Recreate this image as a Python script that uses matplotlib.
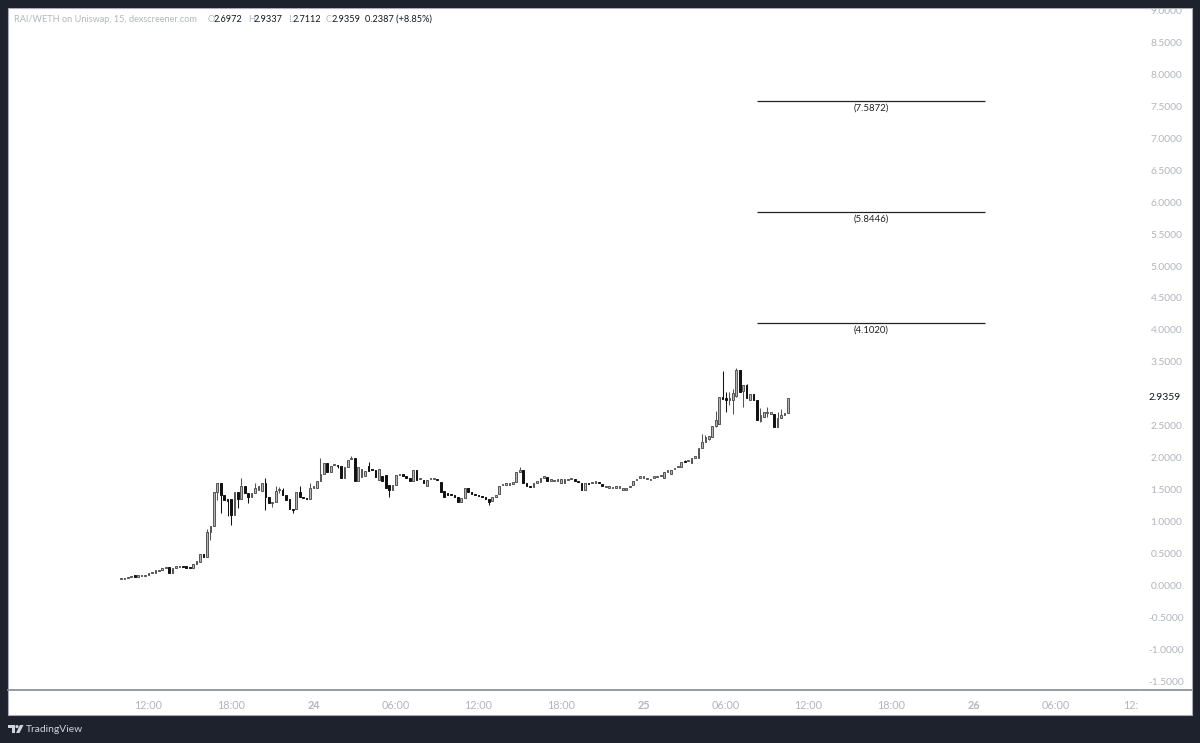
import matplotlib
matplotlib.use("Agg")
import matplotlib.pyplot as plt
from matplotlib.patches import Rectangle, Polygon, Circle
from matplotlib.transforms import blended_transform_factory

plt.rcParams['font.family'] = ['Lato', 'DejaVu Sans']

# 15 minute candles, one value per bar
opens = [.10, .10, .11, .13, .15, .14, .15, .15, .16, .19, .19, .22, .25, .27, .29, .20, .27, .29, .30, .29,
         .28, .27, .34, .37, .49, .45, .84, .93, 1.47, 1.60, 1.41, 1.35, 1.36, 1.10, 1.47, 1.35, 1.55, 1.44, 1.39, 1.44,
         1.50, 1.48, 1.61, 1.38, 1.29, 1.31, 1.49, 1.49, 1.41, 1.36, 1.20, 1.20, 1.46, 1.39, 1.37, 1.35, 1.53, 1.53, 1.64, 1.74,
         1.91, 1.78, 1.88, 1.88, 1.87, 1.68, 1.86, 1.98, 1.99, 1.64, 1.70, 1.71, 1.87, 1.83, 1.80, 1.65, 1.72, 1.73, 1.57, 1.49,
         1.57, 1.73, 1.74, 1.72, 1.68, 1.64, 1.81, 1.66, 1.65, 1.56, 1.66, 1.67, 1.66, 1.62, 1.48, 1.44, 1.42, 1.40, 1.39, 1.30,
         1.37, 1.53, 1.47, 1.43, 1.41, 1.40, 1.38, 1.36, 1.32, 1.38, 1.43, 1.57, 1.58, 1.58, 1.59, 1.62, 1.77, 1.81, 1.60, 1.56,
         1.54, 1.61, 1.62, 1.69, 1.70, 1.64, 1.63, 1.64, 1.60, 1.60, 1.65, 1.66, 1.65, 1.63, 1.61, 1.49, 1.60, 1.60, 1.61, 1.61,
         1.59, 1.54, 1.53, 1.52, 1.53, 1.53, 1.50, 1.50, 1.54, 1.58, 1.65, 1.69, 1.69, 1.66, 1.65, 1.69, 1.70, 1.71, 1.69, 1.78,
         1.75, 1.82, 1.85, 1.85, 1.94, 1.95, 1.91, 2.00, 2.00, 2.15, 2.25, 2.30, 2.32, 2.49, 2.53, 2.95, 2.92, 2.91, 2.91, 2.96,
         3.37, 3.05, 3.14, 2.91, 3.00, 2.90, 2.58, 2.64, 2.70, 2.69, 2.69, 2.48, 2.62, 2.67, 2.6972]
closes = [.10, .11, .13, .15, .14, .16, .15, .16, .19, .19, .24, .25, .27, .29, .20, .27, .31, .31, .29, .28,
          .27, .34, .39, .49, .44, .84, .93, 1.47, 1.60, 1.41, 1.34, 1.33, 1.10, 1.47, 1.35, 1.55, 1.44, 1.39, 1.44, 1.53,
          1.55, 1.61, 1.38, 1.29, 1.31, 1.48, 1.50, 1.41, 1.34, 1.20, 1.18, 1.46, 1.39, 1.37, 1.35, 1.53, 1.54, 1.64, 1.74, 1.91,
          1.78, 1.87, 1.88, 1.87, 1.68, 1.86, 1.97, 1.99, 1.64, 1.85, 1.83, 1.79, 1.79, 1.80, 1.70, 1.82, 1.64, 1.52, 1.49, 1.57,
          1.73, 1.74, 1.72, 1.69, 1.64, 1.81, 1.65, 1.67, 1.60, 1.65, 1.66, 1.67, 1.65, 1.47, 1.38, 1.42, 1.41, 1.39, 1.30, 1.37,
          1.53, 1.47, 1.43, 1.41, 1.40, 1.38, 1.36, 1.31, 1.38, 1.41, 1.56, 1.58, 1.58, 1.59, 1.62, 1.77, 1.81, 1.60, 1.56, 1.54,
          1.61, 1.62, 1.69, 1.70, 1.63, 1.65, 1.63, 1.64, 1.66, 1.66, 1.65, 1.66, 1.64, 1.62, 1.49, 1.60, 1.59, 1.60, 1.61, 1.60,
          1.55, 1.54, 1.53, 1.52, 1.53, 1.53, 1.53, 1.50, 1.54, 1.63, 1.65, 1.69, 1.69, 1.66, 1.65, 1.69, 1.70, 1.71, 1.77, 1.78,
          1.80, 1.82, 1.85, 1.94, 1.93, 1.95, 1.99, 2.00, 2.15, 2.25, 2.32, 2.34, 2.49, 2.59, 2.95, 2.92, 2.91, 2.93, 3.02, 3.37,
          3.03, 3.14, 2.93, 3.00, 2.90, 2.59, 2.67, 2.72, 2.70, 2.69, 2.48, 2.62, 2.67, 2.70, 2.9359]
# only the bars with a visible wick, everything else stays at the body
high_wicks = {25: .88, 35: 1.69, 39: 1.61, 42: 1.69, 45: 1.55, 46: 1.54, 47: 1.52, 52: 1.56, 55: 1.60, 58: 1.99,
              67: 2.02, 72: 1.93, 116: 1.85, 164: 1.97, 169: 2.37, 170: 2.36, 173: 2.73, 175: 3.36, 176: 3.03, 177: 3.03,
              178: 3.08, 179: 3.40, 182: 3.16, 186: 2.78, 188: 2.79, 191: 2.72, 192: 2.76}
low_wicks = {26: .71, 28: 1.34, 29: 1.13, 31: 1.08, 32: .94, 34: 1.22, 37: 1.29, 42: 1.18, 44: 1.23, 46: 1.44,
             50: 1.14, 63: 1.84, 78: 1.39, 107: 1.26, 171: 2.27, 173: 2.48, 176: 2.72, 177: 2.83, 178: 2.69, 179: 2.95,
             181: 2.79, 186: 2.56, 188: 2.64}

fib_levels = [4.1020, 5.8446, 7.5872]
fib_start = 185
fib_end = 251.3

price_ticks = [-1.5, -1.0, -0.5, 0.0, 0.5, 1.0, 1.5, 2.0, 2.5, 3.0, 3.5, 4.0, 4.5, 5.0, 5.5, 6.0, 6.5, 7.0, 7.5, 8.0, 8.5, 9.0]
time_ticks = [8, 32, 56, 80, 104, 128, 152, 176, 200, 224, 248, 272, 296]
time_labels = ['12:00', '18:00', '24', '06:00', '12:00', '18:00', '25', '06:00', '12:00', '18:00', '26', '06:00', '12:']
day_labels = ['24', '25', '26']

DARK = '#1e222d'
GREY = '#b2b5be'
AXIS = '#8d909c'

fig = plt.figure(figsize=(12, 7.43), dpi=100, facecolor=DARK)
W, H = 1200.0, 743.0

# white panel behind everything
fig.patches.append(Rectangle((8 / W, 1 - 715 / H), 1184 / W, 707 / H, transform=fig.transFigure,
                             facecolor='white', edgecolor='#a9acb6', linewidth=0.8, zorder=-1))

ax = fig.add_axes([8 / W, 1 - 690 / H, 1132 / W, 682 / H], facecolor='white')
ax.patch.set_alpha(0)
ax.set_xlim((8 - 121) / 3.4375, (1140 - 121) / 3.4375)
ax.set_ylim((585.5 - 690) / 63.9, (585.5 - 8) / 63.9)

# candles
for i in range(len(opens)):
    o, c = opens[i], closes[i]
    top = high_wicks.get(i, max(o, c))
    bottom = low_wicks.get(i, min(o, c))
    up = c >= o
    ax.vlines(i, bottom, top, color='#555555' if up else '#111111', linewidth=0.75, zorder=2)
    ax.bar(i, max(abs(c - o), 0.02), bottom=min(o, c), width=0.5,
           facecolor='#b4b4b4' if up else '#111111', edgecolor='#555555' if up else '#111111',
           linewidth=0.7, zorder=3)

# target levels
for level in fib_levels:
    ax.hlines(level, fib_start, fib_end, color='#222222', linewidth=0.9, zorder=2)
    ax.text((fib_start + fib_end) / 2, level - 0.11, '(%.4f)' % level, ha='center', va='center',
            fontsize=6.9, color='#222222')

for side in ['top', 'left', 'right']:
    ax.spines[side].set_visible(False)
ax.spines['bottom'].set_color(AXIS)
ax.spines['bottom'].set_linewidth(1.3)

ax.set_xticks(time_ticks)
ax.set_xticklabels(time_labels)
ax.tick_params(axis='x', length=0, pad=7, labelsize=7.8, labelcolor=GREY)
for lab in ax.get_xticklabels():
    if lab.get_text() in day_labels:
        lab.set_fontweight('bold')
    if lab.get_text() == '12:':
        lab.set_ha('right')
        lab.set_x(296.4)

ax.yaxis.tick_right()
ax.set_yticks(price_ticks)
ax.set_yticklabels(['%.4f' % p for p in price_ticks])
ax.tick_params(axis='y', length=0, pad=19, labelsize=7.4, labelcolor=GREY)
for lab in ax.get_yticklabels():
    lab.set_ha('center')

# current price label sits on top of the 3.0000 tick
trans = blended_transform_factory(fig.transFigure, ax.transData)
ax.text(1165 / W, closes[-1], '%.4f' % closes[-1], transform=trans, ha='center', va='center', fontsize=7.4,
        color='#131722', clip_on=False, zorder=6,
        bbox=dict(facecolor='white', edgecolor='none', boxstyle='square,pad=0.3'))

# overlay in pixel coordinates for frame, header and logo
over = fig.add_axes([0, 0, 1, 1], zorder=5)
over.set_xlim(0, W)
over.set_ylim(H, 0)
over.axis('off')
over.add_patch(Rectangle((0, 0), W, 8, facecolor=DARK, edgecolor='none'))
over.plot([1141, 1192], [690, 690], color=AXIS, linewidth=1.3, solid_capstyle='butt')

over.text(14, 19, 'RAI/WETH on Uniswap, 15, dexscreener.com', fontsize=6.6, color=GREY, va='center')
header = [(208, 'O', GREY), (214, '2.6972', '#131722'), (248, 'H', GREY), (254, '2.9337', '#131722'),
          (288, 'L', GREY), (293, '2.7112', '#131722'), (326, 'C', GREY), (332, '2.9359', '#131722'),
          (365, '0.2387 (+8.85%)', '#131722')]
for hx, txt, col in header:
    over.text(hx, 19, txt, fontsize=6.6, color=col, va='center')

# TradingView mark
over.add_patch(Polygon([(8, 725), (15, 725), (15, 733), (11.5, 733), (11.5, 728), (8, 728)], facecolor='#d1d4dc', edgecolor='none'))
over.add_patch(Circle((17, 726.6), 1.6, facecolor='#d1d4dc', edgecolor='none'))
over.add_patch(Polygon([(20, 725), (23.5, 725), (19.5, 733), (16, 733)], facecolor='#d1d4dc', edgecolor='none'))
over.text(26, 729, 'TradingView', fontsize=7.4, color='#d1d4dc', va='center')

fig.savefig('out.png', dpi=100, facecolor=DARK)
